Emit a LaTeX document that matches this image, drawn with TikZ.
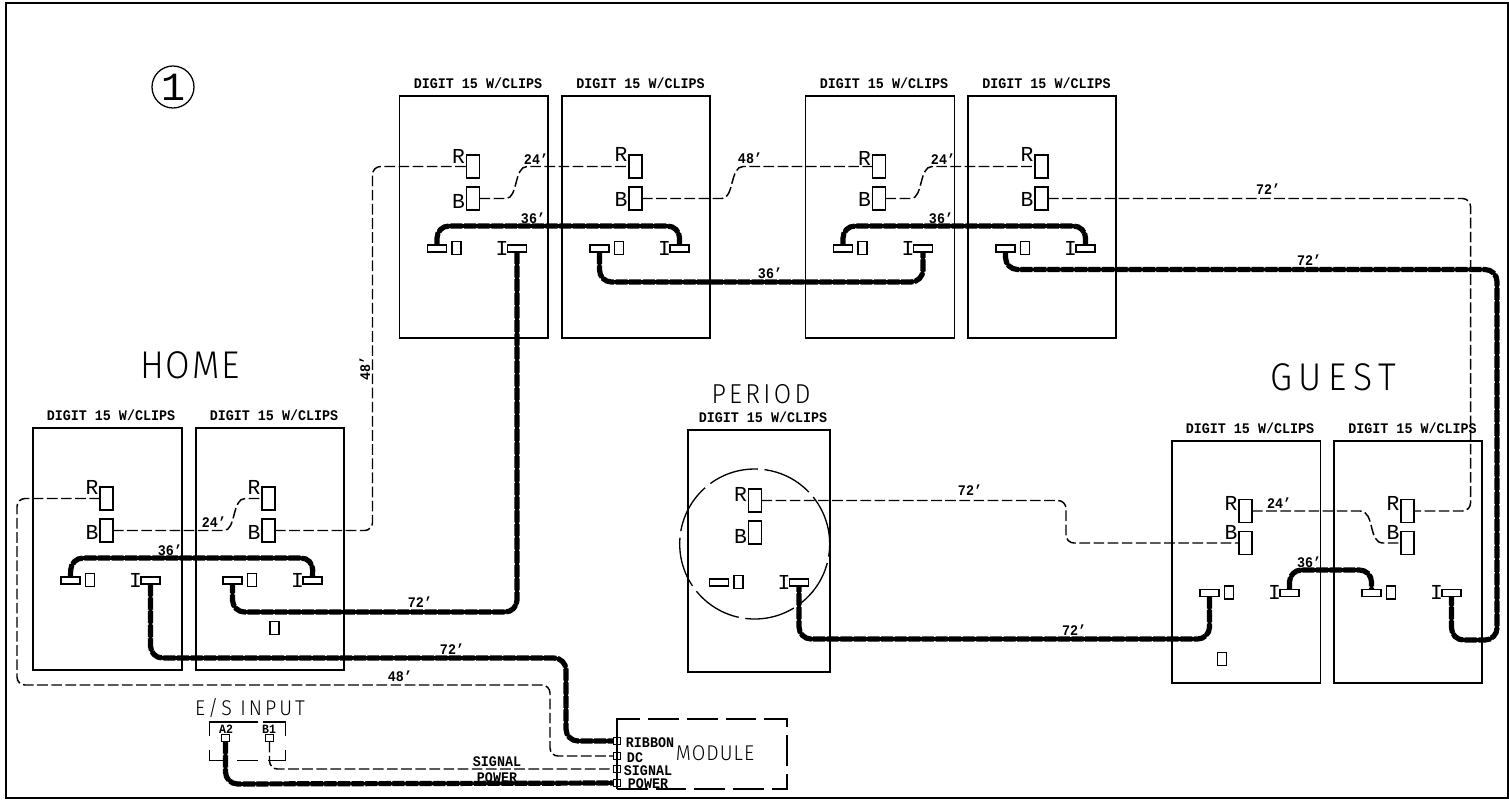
\documentclass[tikz,border=0pt]{standalone}
\usepackage{fontspec}
\setmainfont{Liberation Mono}
\newfontfamily\thinf[FakeStretch=0.92]{Fira Sans Light}
\newfontfamily\smallf[FakeStretch=0.91,Ligatures=TeX]{Liberation Mono Bold}
\newcommand\fbig{\thinf\fontsize{29pt}{36pt}\addfontfeature{LetterSpace=5}\selectfont}
\newcommand\fguest{\thinf\fontsize{29pt}{36pt}\addfontfeature{LetterSpace=17}\selectfont}
\newcommand\fper{\thinf\fontsize{20.5pt}{24pt}\addfontfeature{LetterSpace=12}\selectfont}
\newcommand\fmid{\thinf\fontsize{16pt}{18pt}\addfontfeature{LetterSpace=5}\selectfont}
\newcommand\fes{\thinf\fontsize{16pt}{18pt}\addfontfeature{LetterSpace=14}\selectfont}
\newcommand\flet{\fontsize{16pt}{18pt}\selectfont}
\newcommand\fsmall{\smallf\fontsize{11pt}{12pt}\selectfont}
\tikzset{
  unitbox/.style={draw,line width=1.2pt,inner sep=0pt,outer sep=0pt,minimum height=181.5pt},
  vrect/.style={draw,line width=1.1pt,inner sep=0pt,outer sep=0pt,minimum width=9.75pt,minimum height=17.5pt},
  hbar/.style={draw,line width=1.1pt,inner sep=0pt,outer sep=0pt,minimum width=14.25pt,minimum height=5.25pt},
  sq/.style={draw,line width=1.1pt,inner sep=0pt,outer sep=0pt,minimum width=7pt,minimum height=10pt},
  term/.style={draw,line width=0.9pt,inner sep=0pt,outer sep=0pt,minimum width=5.5pt,minimum height=5.5pt},
  small/.style={font=\fsmall,inner sep=0pt},
  mid/.style={font=\fmid,inner sep=0pt},
  big/.style={font=\fbig,inner sep=0pt},
  letter/.style={font=\flet,inner sep=0pt},
  wire/.style={line width=1.1pt,dash pattern=on 8pt off 2.6pt,rounded corners=6pt},
  ribbon/.style={line width=2.7pt,rounded corners=9pt,preaction={draw,line width=3.9pt,dash pattern=on 9pt off 1.2pt}},
  dbox/.style={draw,line width=1pt,dash pattern=on 23pt off 6pt,inner sep=0pt,outer sep=0pt},
  esline/.style={line width=1pt},
}
% unit contents: name, origin x, origin y, R label y, B label y
\newcommand\unitparts[5]{%
  \begin{scope}[shift={(#2,#3)}]
    \node[vrect] (#1R) at (73.5,70.5) {};
    \node[vrect] (#1B) at (73.5,102.5) {};
    \node[hbar] (#1L) at (37.5,152.5) {};
    \node[sq] (#1S) at (57,152) {};
    \node[hbar] (#1I) at (117.5,152.5) {};
    \node[letter] (#1RT) at (59,#4) {R};
    \node[letter] (#1BT) at (59,#5) {B};
    \node[letter] (#1IT) at (102.5,152) {I};
  \end{scope}}
% box: name, left, top, width, title centre x
\newcommand\unitbox[5]{%
  \node[unitbox,minimum width=#4*0.75pt,anchor=north west] (#1box) at (#2,#3) {};
  \node[small] (#1title) at (#5,#3-12.5) {DIGIT 15 W/CLIPS};}
\begin{document}
\begin{tikzpicture}[x=0.75pt,y=-0.75pt]
\useasboundingbox (0,0) rectangle (1509,800);
\node[draw,line width=1.4pt,inner sep=0pt,outer sep=0pt,minimum width=1126.5pt,minimum height=596.25pt,anchor=north west] (frame) at (6,3) {};

\node[draw,circle,line width=0.95pt,inner sep=0pt,minimum size=31.5pt,font=\fontsize{30pt}{36pt}\selectfont] (num) at (173,87) {1};
\node[big] (home) at (190,365) {HOME};
\node[font=\fguest,inner sep=0pt] (guest) at (1333,377) {GUEST};
\node[font=\fper,inner sep=0pt] (period) at (761,394) {PERIOD};

% units
\unitbox{h1}{33}{428}{149}{111}
\unitbox{h2}{196}{428}{148}{274}
\unitbox{t1}{399.5}{96}{148.5}{478}
\unitbox{t2}{562}{96}{148}{640.5}
\unitbox{t3}{805.5}{96}{149}{884}
\unitbox{t4}{968}{96}{148}{1046.5}
\unitbox{p}{688}{430}{142}{763}
\unitbox{g1}{1172}{441}{148.5}{1250}
\unitbox{g2}{1334}{441}{148}{1412.5}
\unitparts{h1}{33}{428}{59}{104}
\unitparts{h2}{195}{428}{59}{104}
\unitparts{t1}{399.5}{96}{60}{105}
\unitparts{t2}{562}{96}{58}{103}
\unitparts{t3}{805.5}{96}{62}{103}
\unitparts{t4}{968}{96}{58}{103}
\unitparts{p}{681.5}{430}{64}{106}
\unitparts{g1}{1172}{440.5}{63}{92}
\unitparts{g2}{1334}{440.5}{63}{92}
\node[sq] (h2x) at (274.5,628) {};
\node[sq] (g1x) at (1222,659) {};
\node[draw,circle,line width=1pt,inner sep=0pt,minimum size=112.5pt,dash pattern=on 38pt off 5pt] (pcircle) at (754.7,544) {};

% module
\node[dbox,minimum width=127.5pt,minimum height=52.5pt,anchor=north west] (module) at (617,719) {};
\draw[esline] (module.north west) -- (module.south west);
\node[mid] (moduletext) at (715,753) {MODULE};
\node[term] (mrib) at (617,741) {};
\node[term] (mdc) at (617,756) {};
\node[term] (msig) at (617,769) {};
\node[term] (mpow) at (617,783) {};
\node[small] (trib) at (650,743) {RIBBON};
\node[small] (tdc) at (635,758) {DC};
\node[small] (tsig) at (648,771) {SIGNAL};
\node[small] (tpow) at (648,784) {POWER};

% E/S input
\node[font=\fes,inner sep=0pt] (estext) at (250,708) {E/S INPUT};
\draw[esline] (209.5,736) -- (209.5,722) -- (258,722) (263,722) -- (285.5,722) -- (285.5,736);
\draw[esline] (209.5,750) -- (209.5,760.7) -- (225,760.7) (237,760.7) -- (258,760.7) (268,760.7) -- (285.5,760.7) -- (285.5,750);
\node[small,font=\smallf\fontsize{9.5pt}{10pt}\selectfont] (a2) at (226,729) {A2};
\node[small,font=\smallf\fontsize{9.5pt}{10pt}\selectfont] (b1) at (269,729) {B1};
\node[term] (ta2) at (225.5,738) {};
\node[term] (tb1) at (269.5,738) {};

% thin wires
\draw[wire] (h1R.west) -- (17,498.5) -- (17,685) -- (550,685) -- (550,756) -- (mdc.west);
\draw[wire,rounded corners=0pt] (h1B.east) -- (224,530.5) .. controls (236,530.5) and (232,498.5) .. (245,498.5) -- (h2R.west);
\draw[wire] (h2B.east) -- (372.5,530.5) -- (372.5,166.5) -- (t1R.west);
\draw[wire,rounded corners=0pt] (t1B.east) -- (506,198.5) .. controls (518,198.5) and (514,166.5) .. (527,166.5) -- (t2R.west);
\draw[wire,rounded corners=0pt] (t2B.east) -- (722,198.5) .. controls (734,198.5) and (730,166.5) .. (743,166.5) -- (t3R.west);
\draw[wire,rounded corners=0pt] (t3B.east) -- (911,198.5) .. controls (923,198.5) and (919,166.5) .. (932,166.5) -- (t4R.west);
\draw[wire] (t4B.east) -- (1470.5,198.5) -- (1470.5,511) -- (g2R.east);
\draw[wire,rounded corners=0pt] (g1R.east) -- (1360,511) .. controls (1375,511) and (1368,543) .. (1383,543) -- (g2B.west);
\draw[wire] (pR.east) -- (1066,500.5) -- (1066,543) -- (g1B.west);
\draw[wire] (tb1.south) -- (269.5,769) -- (msig.west);

% ribbons
\draw[ribbon] (h1L.north) -- (71,558) -- (313,558) -- (h2I.north);
\draw[ribbon] (h1I.south) -- (150.5,658) -- (566,658) -- (566,741) -- (mrib.west);
\draw[ribbon] (t1I.south) -- (517,612) -- (232.5,612) -- (h2L.south);
\draw[ribbon] (t1L.north) -- (437,226) -- (679.5,226) -- (t2I.north);
\draw[ribbon] (t2L.south) -- (599.5,282) -- (923,282) -- (t3I.south);
\draw[ribbon] (t3L.north) -- (843,226) -- (1085.5,226) -- (t4I.north);
\draw[ribbon] (t4L.south) -- (1005.5,269.5) -- (1497,269.5) -- (1497,640) -- (1451.5,640) -- (g2I.south);
\draw[ribbon] (g1I.north) -- (1289.5,570) -- (1371.5,570) -- (g2L.north);
\draw[ribbon] (g1L.south) -- (1209.5,639) -- (799,639) -- (pI.south);
\draw[ribbon] (ta2.south) -- (225.5,784) -- (mpow.west);

% wire labels
\node[small] (l1) at (214,522) {24'};
\node[small,rotate=90] (l2) at (365,368) {48'};
\node[small] (l3) at (536,159) {24'};
\node[small] (l4) at (750,158) {48'};
\node[small] (l5) at (943,159) {24'};
\node[small] (l6) at (1268,189) {72'};
\node[small] (l7) at (1279,503) {24'};
\node[small] (l8) at (970,490) {72'};
\node[small] (l9) at (400,676) {48'};
\node[small] (l10) at (170,550) {36'};
\node[small] (l11) at (533,218) {36'};
\node[small] (l12) at (941,218) {36'};
\node[small] (l13) at (1309,562) {36'};
\node[small] (l14) at (770,273) {36'};
\node[small] (l15) at (420,602) {72'};
\node[small] (l16) at (452,649) {72'};
\node[small] (l17) at (1309,260) {72'};
\node[small] (l18) at (1074,630) {72'};
\node[small] (l19) at (497,762) {SIGNAL};
\node[small] (l20) at (497,778) {POWER};
\end{tikzpicture}
\end{document}
